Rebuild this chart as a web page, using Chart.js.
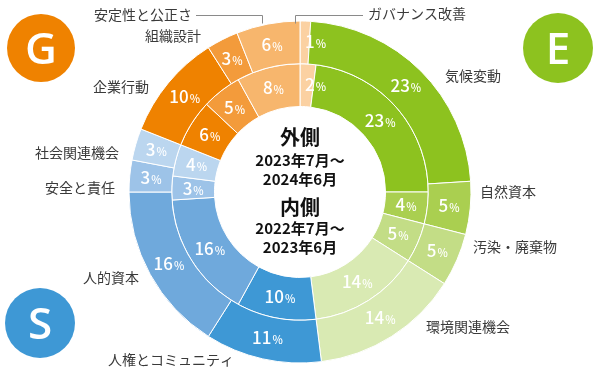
<!DOCTYPE html>
<html><head><meta charset="utf-8">
<script src="https://cdn.jsdelivr.net/npm/chart.js@4"></script>
<style>html,body{margin:0;padding:0;background:#fff}#wrap{width:600px;height:376px;position:relative}</style>
</head><body><div id="wrap"><canvas id="c" width="600" height="376"></canvas></div>
<script>
const categories = ['ガバナンス改善','気候変動','自然資本','汚染・廃棄物','環境関連機会','人権とコミュニティ','人的資本','安全と責任','社会関連機会','企業行動','組織設計','安定性と公正さ'];
const outerValues = [1,23,5,5,14,11,16,3,3,10,3,6];   // 外側 2023年7月～2024年6月
const innerValues = [2,23,4,5,14,10,16,3,4,6,5,8];    // 内側 2022年7月～2023年6月
const seriesNames = ['外側','内側'];
const seriesPeriods = [['2023年7月～','2024年6月'],['2022年7月～','2023年6月']];
const pillars = ['E','S','G'];

const colors = ['#fbd1a2','#8dc21f','#aacf50','#c3dd86','#d9eab3','#3e98d5','#6fa9dc','#9dc3e8','#bbd6ef','#ef8200','#f39b3b','#f7b66d'];
const pillarStyle = {
  E:{x:558,y:48,r:35,color:'#8dc21f'},
  S:{x:40,y:323,r:35,color:'#3e98d5'},
  G:{x:41,y:48,r:34,color:'#ef8200'}
};
const labelPos = {
  'ガバナンス改善':{x:368,y:14},
  '気候変動':{x:445,y:76},
  '自然資本':{x:480,y:192},
  '汚染・廃棄物':{x:473,y:247},
  '環境関連機会':{x:426,y:327},
  '人権とコミュニティ':{x:108,y:360},
  '人的資本':{x:83,y:278},
  '安全と責任':{x:45,y:188},
  '社会関連機会':{x:35,y:153},
  '企業行動':{x:93,y:87},
  '組織設計':{x:145,y:36},
  '安定性と公正さ':{x:94,y:15}
};
const leaders = [[[196,15],[262,15],[262,23]],[[363,15],[295,15],[295,23]]];

const JP = '"Noto Sans CJK JP","Noto Sans",sans-serif';

const decor = {
  id:'decor',
  afterDraw(chart){
    const ctx = chart.ctx;
    ctx.save();
    // percentage labels
    chart.data.datasets.forEach((ds,di)=>{
      const meta = chart.getDatasetMeta(di);
      meta.data.forEach((arc,i)=>{
        const p = arc.getCenterPoint();
        const num = String(ds.data[i]);
        ctx.font = '500 17px ' + JP;
        const w1 = ctx.measureText(num).width;
        ctx.font = '500 11px ' + JP;
        const w2 = ctx.measureText('%').width;
        let x0 = p.x - (w1+w2+1)/2;
        if (i === 0) x0 = arc.x + 5;
        const yb = p.y + 6;
        ctx.fillStyle = '#fff';
        ctx.textAlign = 'left';
        ctx.textBaseline = 'alphabetic';
        ctx.font = '500 17px ' + JP;
        ctx.fillText(num, x0, yb);
        ctx.font = '500 11px ' + JP;
        ctx.fillText('%', x0 + w1 + 1, yb);
      });
    });
    // category labels
    ctx.fillStyle = '#3a3a3a';
    ctx.font = '400 14px ' + JP;
    ctx.textAlign = 'left';
    ctx.textBaseline = 'middle';
    categories.forEach(c=>{ const q = labelPos[c]; ctx.fillText(c, q.x, q.y); });
    // leader lines
    ctx.strokeStyle = '#8a8a8a';
    ctx.lineWidth = 1;
    leaders.forEach(l=>{
      ctx.beginPath();
      ctx.moveTo(l[0][0], l[0][1]+0.5);
      for (let k=1;k<l.length;k++) ctx.lineTo(l[k][0]+0.5, l[k][1]+0.5);
      ctx.stroke();
    });
    // center text
    const arc0 = chart.getDatasetMeta(0).data[0];
    const cx = arc0.x;
    ctx.fillStyle = '#111';
    ctx.textAlign = 'center';
    ctx.textBaseline = 'middle';
    const rows = [[seriesNames[0],137,'700 20px '],[seriesPeriods[0][0],160,'700 15px '],[seriesPeriods[0][1],179,'700 15px '],
                  [seriesNames[1],207,'700 20px '],[seriesPeriods[1][0],228,'700 15px '],[seriesPeriods[1][1],247,'700 15px ']];
    rows.forEach(r=>{ ctx.font = r[2] + JP; ctx.fillText(r[0], cx, r[1]); });
    // pillar badges
    pillars.forEach(pl=>{
      const s = pillarStyle[pl];
      ctx.fillStyle = s.color;
      ctx.beginPath(); ctx.arc(s.x, s.y, s.r, 0, Math.PI*2); ctx.fill();
      ctx.fillStyle = '#fff';
      ctx.font = '600 44px "Open Sans",sans-serif';
      ctx.textAlign = 'center';
      ctx.textBaseline = 'alphabetic';
      ctx.fillText(pl, s.x, s.y + 16);
    });
    ctx.restore();
  }
};

new Chart(document.getElementById('c'), {
  type:'doughnut',
  data:{
    labels:categories,
    datasets:[
      {label:seriesNames[0], data:outerValues, backgroundColor:colors, borderColor:'#fff', borderWidth:1},
      {label:seriesNames[1], data:innerValues, backgroundColor:colors, borderColor:'#fff', borderWidth:1}
    ]
  },
  options:{
    responsive:false,
    devicePixelRatio:1,
    animation:false,
    events:[],
    radius:171,
    cutout:'50%',
    layout:{padding:{top:8,bottom:0,left:0,right:0}},
    plugins:{legend:{display:false},tooltip:{enabled:false}}
  },
  plugins:[decor]
});
</script></body></html>
